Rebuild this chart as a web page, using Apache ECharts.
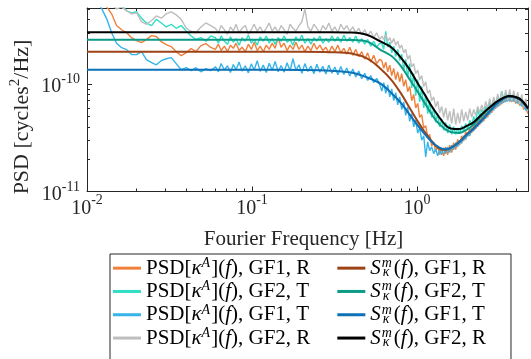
<!DOCTYPE html>
<html>
<head>
<meta charset="utf-8">
<script src="https://cdn.jsdelivr.net/npm/echarts@6/dist/echarts.min.js"></script>
<style>
  html, body { margin: 0; padding: 0; background: #fff; }
  #chart { width: 531px; height: 359px; }
</style>
</head>
<body>
<div id="chart"></div>
<script>
// ---------------- DATA (PSD values in units of 1e-11 cycles^2/Hz) ----------------
const UNIT = 1e-11;

// Fourier frequency grid of the measured PSDs [Hz]
const freqPSD = [
  0.010,0.0107,0.0115,0.0123,0.0132,0.0141,0.0151,0.0162,0.0174,0.0186,
  0.020,0.0214,0.0229,0.0246,0.0263,0.0282,0.0302,0.0324,0.0347,0.0372,
  0.040,0.0427,0.0457,0.049,0.0525,0.0562,
  0.060,0.0625,0.065,0.068,0.071,0.074,0.077,0.080,0.0835,0.087,
  0.091,0.095,0.099,0.103,0.1075,0.112,0.117,0.122,0.127,0.1325,
  0.138,0.144,0.150,0.1565,0.163,0.170,0.177,0.1845,0.1925,0.2005,
  0.209,0.218,0.2275,0.237,0.247,0.2575,0.2685,0.28,0.292,0.3045,
  0.3175,0.331,0.345,0.36,0.375,0.391,0.408,0.425,0.443,0.462,
  0.482,0.502,0.524,0.546,0.569,0.594,
  0.611,0.628,0.646,0.664,0.683,0.702,0.722,0.742,0.763,0.785,
  0.807,0.830,0.853,0.877,0.902,0.928,0.954,0.981,1.009,1.037,
  1.066,1.097,1.128,1.160,1.192,1.226,1.261,1.296,1.333,1.371,
  1.410,1.450,1.491,1.533,1.576,1.621,1.667,1.714,1.762,1.812,
  1.864,1.916,1.971,2.027,2.084,2.143,2.204,2.266,2.330,2.396,
  2.464,2.534,2.605,2.679,2.755,2.833,2.913,2.996,3.080,3.168,
  3.257,3.349,3.444,3.542,3.642,3.745,3.851,3.960,4.072,4.188,
  4.306,4.428,4.553,4.682
];

// PSD[kappa^A](f), GF1, R  (orange)
const psdGF1R = [
  120,100,85,68,52,45,35,32,30,27,25.4,24.3,25.9,28.2,27.7,24.8,23.3,22.3,20,18.4,19.6,21.4,20,22.8,23.8,21.9,
  21,23.5,20.5,22.5,20,23,21.5,24,20.5,22,
  20,23.5,21,24.5,20.5,22.5,20,23,21,24,
  21.5,27,22,24,20.5,23,21,24.5,21,23,
  20,22.5,20.5,24,21,23,20.5,22,19.5,22.5,
  20,23,19.5,21.5,19,22,18.5,21,18,20,
  17,19.5,16,18.5,15.5,17,
  16.5,14,16,13,15,12,14,11,13,10.5,
  12.5,9.5,11,8.5,9.5,7.0,8.0,6.0,6.6,4.9,
  5.2,3.9,4.1,3.2,3.4,2.65,2.9,2.35,2.65,2.2,
  2.5,2.15,2.6,2.2,2.7,2.3,2.85,2.45,3.05,2.7,
  3.3,2.95,3.6,3.25,3.9,3.5,4.25,3.8,4.6,4.15,
  5.0,4.5,5.4,4.9,5.9,5.4,6.4,5.9,6.9,6.3,
  7.3,6.7,7.6,6.9,7.7,6.8,7.5,6.6,7.2,6.3,
  6.8,5.8,6.2,5.3
];

// PSD[kappa^A](f), GF2, T  (turquoise)
const psdGF2T = [
  95,85,78,72,66,61,57,54,48,46,47,41,37,35,40,37,34,36,33,35,31,28,26,27,25,28,
  27,24,28,25,23.5,27.5,24.5,26.5,23,27,
  25,28.5,24,26,23,27.5,25,28,24,26.5,
  23.5,27,25,28,24.5,26,23,27.5,25,28.5,
  24,26.5,23.5,27,25,28,24,26.5,24.5,28,
  25,27.5,24.5,28.5,25,27,24.5,28,24,26.5,
  23.5,26,22.5,25,22,24,
  24,21,31,22,24.5,19.5,22.5,18,21,16.5,
  19,13.5,17,11.5,15.5,9.2,12.5,7.8,11.0,6.8,
  9.5,6.0,8.0,5.3,7.0,4.9,6.0,4.4,5.3,4.0,
  4.7,3.7,4.4,3.5,4.2,3.4,4.0,3.4,3.9,3.45,
  4.1,3.6,4.3,3.8,4.6,4.1,5.0,4.4,5.9,4.9,
  5.8,5.2,6.2,5.6,6.7,6.0,7.2,6.5,7.7,6.9,
  8.6,7.2,8.3,7.4,8.2,7.3,8.0,7.1,7.8,6.8,
  7.4,6.3,6.8,5.7
];

// PSD[kappa^A](f), GF1, T  (light blue)
const psdGF1T = [
  110,80,62,50,40,30,24,21.8,20.9,18.8,18.8,20,16.9,15.8,15.1,16.5,17.2,17.6,15.5,13.6,14.2,13.3,14.2,13.0,13.9,13.3,
  14.5,13,15.5,13.5,14.8,12.8,15.2,13.6,16,13.2,
  14.8,12.7,15.4,13.5,16.5,13.1,15,12.8,15.6,13.4,
  16.2,13,14.9,12.9,15.8,13.3,17.2,13.4,15.1,12.6,
  15.5,13.1,14.7,12.5,15.3,12.9,14.6,12.4,15,12.6,
  14.4,12.2,14.6,12.3,14.1,11.9,13.8,11.6,13.2,11.2,
  12.6,10.8,12,10.3,11.3,9.9,
  8.6,10.3,8.2,9.8,7.6,9.0,7.0,8.3,6.4,7.6,
  5.8,6.8,5.1,6.1,4.5,5.3,4.0,4.6,3.5,3.9,
  3.0,3.3,2.1,2.9,2.4,2.6,2.25,2.5,2.15,2.45,
  2.2,2.55,2.25,2.6,2.3,2.7,2.45,2.85,2.6,3.0,
  2.8,3.3,3.05,3.55,3.3,3.9,3.65,4.3,4.0,4.7,
  4.35,5.1,4.75,5.6,5.2,6.1,5.7,6.6,6.1,7.1,
  6.5,7.4,6.8,7.6,6.9,7.6,6.9,7.4,6.6,7.0,
  6.2,6.5,5.7,5.8
];

// PSD[kappa^A](f), GF2, R  (grey)
const psdGF2R = [
  90,80,70,64,60,56,50,52,48,45,46,38,36,39,43,41,45,47,44,40,33,31,30,34,37,35,
  33,30,35,32,29,34,31,36,30,33,
  35,29,32,36,31,34,30,33,37,31,
  34,30,35,32,29,36,33,31,35,38,
  50,34,31,36,33,30,35,32,37,31,
  34,30,36,32,35,31,34,30,33,29,
  32,28,31,27,30,26,
  28,26,29,25,27,24,26.5,23,25,21.5,
  23,19.5,21,17,18.5,14.5,15.5,12.5,13.5,11,
  12,9.5,10.5,8.2,8.8,7.0,7.6,6.1,6.9,5.4,
  6.2,4.9,6.0,4.6,5.6,4.3,5.9,4.2,5.4,4.3,
  5.8,4.5,5.5,4.6,5.9,4.9,5.8,5.1,6.2,5.4,
  6.4,5.6,6.9,5.9,7.3,6.0,7.6,6.4,8.1,6.7,
  8.5,7.0,8.8,7.1,8.9,7.0,8.7,6.9,8.4,6.5,
  8.0,6.1,7.3,5.6
];

// Model frequency grid [Hz]
const freqModel = [0.01,0.05,0.1,0.2,0.3,0.4,0.5,0.6,0.7,0.8,0.9,1.0,1.1,1.2,1.3,1.4,1.5,1.6,1.8,2.0,2.2,2.5,2.8,3.0,3.3,3.6,4.0,4.3,4.7];
const modelGF1R = [20.0,20.0,20.0,20.0,19.8,19.2,17.2,13.9,10.9,8.15,6.03,4.59,3.67,3.08,2.65,2.46,2.44,2.54,2.89,3.40,3.86,4.74,5.75,6.47,7.24,7.66,7.45,6.98,5.88];
const modelGF2T = [25.8,25.8,25.8,25.8,25.8,25.7,24.8,20.8,18.2,14.6,11.1,8.65,6.84,5.51,4.58,4.08,3.74,3.58,3.51,3.76,4.21,5.16,6.13,6.69,7.37,7.71,7.51,7.04,5.93];
const modelGF1T = [13.6,13.6,13.6,13.5,13.3,12.8,11.5,10.1,8.22,6.64,5.21,4.19,3.50,3.00,2.69,2.52,2.47,2.54,2.89,3.37,3.84,4.71,5.71,6.45,7.21,7.64,7.43,6.96,5.86];
const modelGF2R = [30.3,30.3,30.3,30.3,30.3,30.1,28.6,24.9,21.9,17.5,13.7,10.4,8.22,6.56,5.43,4.64,4.09,3.86,3.81,4.08,4.41,5.33,6.20,6.76,7.40,7.73,7.53,7.06,5.94];

// Series names (legend)
const psdNames = ['PSD[κ^A](f), GF1, R', 'PSD[κ^A](f), GF2, T', 'PSD[κ^A](f), GF1, T', 'PSD[κ^A](f), GF2, R'];
const modelNames = ['S_κ^m(f), GF1, R', 'S_κ^m(f), GF2, T', 'S_κ^m(f), GF1, T', 'S_κ^m(f), GF2, R'];

// Tick values / labels
const xTicks = [0.01, 0.1, 1];
const xTickExps = ['-2', '-1', '0'];
const xMinorTicks = [0.02,0.03,0.04,0.05,0.06,0.07,0.08,0.09,0.2,0.3,0.4,0.5,0.6,0.7,0.8,0.9,2,3,4];
const yTicks = [1e-11, 1e-10];
const yTickExps = ['-11', '-10'];
const yMinorTicks = [2e-11,3e-11,4e-11,5e-11,6e-11,7e-11,8e-11,9e-11,2e-10,3e-10,4e-10,5e-10];

const xTitle = 'Fourier Frequency [Hz]';
const yTitleParts = ['PSD [cycles', '2', '/Hz]'];

// ---------------- STYLE ----------------
const FONT = 'Liberation Serif';
const AX = '#262626';
const psdColors = ['#F0803C', '#30DEC6', '#36B4EA', '#BEBEBE'];
const modelColors = ['#9C4418', '#0C9B86', '#0E70B7', '#000000'];

const X_MIN = 0.01, X_MAX = 4.7, Y_MIN = 1e-11, Y_MAX = 5.1e-10;

function toData(freq, vals) { return freq.map((f, i) => [f, vals[i] * UNIT]); }

function findIdx(ticks, v) {
  return ticks.findIndex(t => Math.abs(Math.log10(t) - Math.log10(v)) < 1e-6);
}

const xRich = {
  b: { fontFamily: FONT, fontSize: 20, lineHeight: 22, color: AX },
  s: { fontFamily: FONT, fontSize: 14, lineHeight: 16, padding: [0, 0, 17, 0], color: AX }
};
const yRich = {
  b: { fontFamily: FONT, fontSize: 20, lineHeight: 22, padding: [6, 0, 0, 0], color: AX },
  s: { fontFamily: FONT, fontSize: 14, lineHeight: 16, padding: [0, 0, 9, 0], color: AX }
};

function xAxisDef(pos, ticks, len, showLine, showLabel, extra) {
  return Object.assign({
    type: 'log', logBase: 10, min: X_MIN, max: X_MAX, position: pos, gridIndex: 0,
    axisLine: { show: showLine, onZero: false, lineStyle: { color: AX, width: 1 } },
    axisTick: { show: true, inside: true, length: len, customValues: ticks, lineStyle: { color: AX, width: 1 } },
    axisLabel: showLabel ? {
      show: true, customValues: xTicks, margin: 6,
      formatter: v => { const i = findIdx(xTicks, v); return i < 0 ? '' : '{b|10}{s|' + xTickExps[i] + '}'; },
      rich: xRich
    } : { show: false },
    splitLine: { show: false }, minorTick: { show: false }, axisPointer: { show: false }
  }, extra || {});
}
function yAxisDef(pos, ticks, len, showLine, showLabel) {
  return {
    type: 'log', logBase: 10, min: Y_MIN, max: Y_MAX, position: pos, gridIndex: 0,
    axisLine: { show: showLine, onZero: false, lineStyle: { color: AX, width: 1 } },
    axisTick: { show: true, inside: true, length: len, customValues: ticks, lineStyle: { color: AX, width: 1 } },
    axisLabel: showLabel ? {
      show: true, customValues: yTicks, margin: 7, align: 'right',
      formatter: v => { const i = findIdx(yTicks, v); return i < 0 ? '' : '{b|10}{s|' + yTickExps[i] + '}'; },
      rich: yRich
    } : { show: false },
    splitLine: { show: false }, minorTick: { show: false }, axisPointer: { show: false }
  };
}

function legendLabel(name) {
  const rest = name.slice(name.indexOf('(f)') + 3);
  if (name.indexOf('PSD') === 0) {
    return '{n|PSD[}{i|κ}{sup|A}{n|](}{i|f}{n|)' + rest + '}{p1| }';
  }
  return '{i|S}{m|m}{k|κ}{n|(}{i|f}{n|)' + rest + '}{p2| }';
}

const series = [];
const psdArrays = [psdGF1R, psdGF2T, psdGF1T, psdGF2R];
psdArrays.forEach((arr, k) => {
  series.push({
    type: 'line', name: psdNames[k], data: toData(freqPSD, arr),
    xAxisIndex: 0, yAxisIndex: 0, showSymbol: false, symbol: 'none', silent: true,
    lineStyle: { width: 1.4, color: psdColors[k] }, itemStyle: { color: psdColors[k] },
    animation: false, clip: true
  });
});
const modelArrays = [modelGF1R, modelGF2T, modelGF1T, modelGF2R];
modelArrays.forEach((arr, k) => {
  series.push({
    type: 'line', name: modelNames[k], data: toData(freqModel, arr),
    xAxisIndex: 0, yAxisIndex: 0, showSymbol: false, symbol: 'none', silent: true, smooth: 0.35,
    lineStyle: { width: 2, color: modelColors[k] }, itemStyle: { color: modelColors[k] },
    animation: false, clip: true
  });
});

const allNames = psdNames.concat(modelNames);

const LG = { fontFamily: FONT, color: '#000' };
const chart = echarts.init(document.getElementById('chart'), null, { renderer: 'canvas' });
chart.setOption({
  animation: false,
  backgroundColor: '#ffffff',
  grid: { left: 87, right: 3, top: 8, bottom: 167.5, containLabel: false },
  xAxis: [
    xAxisDef('bottom', xTicks, 5, true, true, {
      name: xTitle, nameLocation: 'middle', nameGap: 34,
      nameTextStyle: { fontFamily: FONT, fontSize: 21, color: AX, padding: [0, 8, 0, 0] }
    }),
    xAxisDef('bottom', xMinorTicks, 3, false, false),
    xAxisDef('top', xTicks, 5, true, false),
    xAxisDef('top', xMinorTicks, 3, false, false)
  ],
  yAxis: [
    yAxisDef('left', yTicks, 5, true, true),
    yAxisDef('left', yMinorTicks, 3, false, false),
    yAxisDef('right', yTicks, 5, true, false),
    yAxisDef('right', yMinorTicks, 3, false, false)
  ],
  legend: {
    orient: 'vertical', left: 110, top: 254, height: 100,
    padding: [2.5, 3, 10, 3], itemGap: 0, itemWidth: 28, itemHeight: 3, icon: 'rect',
    borderColor: AX, borderWidth: 1, backgroundColor: '#ffffff',
    selectedMode: false,
    formatter: legendLabel,
    textStyle: {
      color: '#000', fontFamily: FONT, fontSize: 21, lineHeight: 23.3,
      rich: {
        n: Object.assign({ fontSize: 21, lineHeight: 23.3 }, LG),
        i: Object.assign({ fontSize: 21, fontStyle: 'italic', lineHeight: 23.3 }, LG),
        sup: Object.assign({ fontSize: 14, fontStyle: 'italic', lineHeight: 9, verticalAlign: 'top', padding: [0, 1, 0, 0] }, LG),
        m: Object.assign({ fontSize: 14, fontStyle: 'italic', lineHeight: 9, verticalAlign: 'top', width: 0.01, padding: [0, 0, 0, 1] }, LG),
        k: Object.assign({ fontSize: 14, fontStyle: 'italic', lineHeight: 9, verticalAlign: 'bottom', width: 11, padding: [0, 0, 0, 1] }, LG),
        p1: Object.assign({ fontSize: 21, lineHeight: 23.3, width: 27 }, LG),
        p2: Object.assign({ fontSize: 21, lineHeight: 23.3, width: 22 }, LG)
      }
    },
    data: allNames
  },
  graphic: [{
    type: 'text', x: 22, y: 117, rotation: Math.PI / 2, silent: true,
    style: {
      text: '{n|' + yTitleParts[0] + '}{s|' + yTitleParts[1] + '}{n|' + yTitleParts[2] + '}',
      align: 'center', verticalAlign: 'middle', fill: AX,
      rich: {
        n: { fontFamily: FONT, fontSize: 22, lineHeight: 22, fill: AX, color: AX },
        s: { fontFamily: FONT, fontSize: 15, lineHeight: 9, padding: [0, 0, 13, 0], fill: AX, color: AX }
      }
    }
  }],
  series: series
});
</script>
</body>
</html>
